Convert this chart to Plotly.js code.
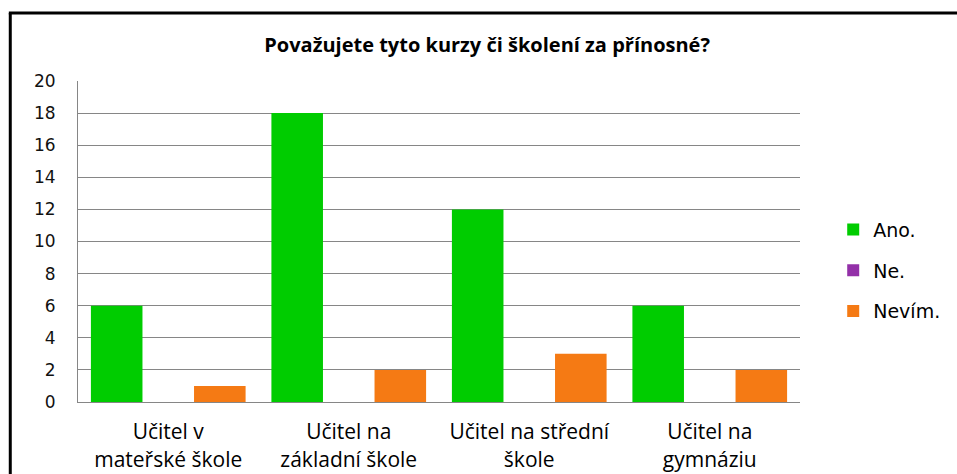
<!DOCTYPE html>
<html><head><meta charset="utf-8">
<script src="https://cdn.plot.ly/plotly-3.0.1.min.js"></script>
<style>html,body{margin:0;padding:0;background:#fff}#chart{width:957px;height:474px}</style>
</head><body><div id="chart"></div>
<script>
const categories = ["Učitel v<br>mateřské škole", "Učitel na<br>základní škole", "Učitel na střední<br>škole", "Učitel na<br>gymnáziu"];
const seriesNames = ["Ano.", "Ne.", "Nevím."];
const ano = [6, 18, 12, 6];
const ne = [0, 0, 0, 0];
const nevim = [1, 2, 3, 2];
const colors = ["#00CC00", "#9330A8", "#F57A14"];
const tickVals = [0, 2, 4, 6, 8, 10, 12, 14, 16, 18, 20];

const values = [ano, ne, nevim];
const traces = seriesNames.map((n, i) => ({
  type: "bar", name: n, x: categories, y: values[i],
  marker: {color: colors[i]}, legendgroup: "g" + i, hoverinfo: "y"
}));

const layout = {
  width: 957, height: 474,
  margin: {l: 78, r: 154, t: 81, b: 72, pad: 0},
  paper_bgcolor: "#fff", plot_bgcolor: "#fff",
  barmode: "group", bargap: 0.143, bargroupgap: 0,
  title: {text: "<b>Považujete tyto kurzy či školení za přínosné?</b>",
    font: {family: "'Open Sans', Lato, sans-serif", size: 20, color: "#000"},
    x: 0.509, xref: "container", xanchor: "center", y: 0.905, yref: "container", yanchor: "middle"},
  xaxis: {tickfont: {family: "'Open Sans', Lato, sans-serif", size: 21, color: "#000"},
    showline: true, linecolor: "#868686", linewidth: 1, ticks: "", showgrid: false, fixedrange: true,
    ticklabelstandoff: 11},
  yaxis: {range: [0, 20], tickvals: tickVals, ticktext: tickVals.map(String),
    tickfont: {family: "'DejaVu Sans', sans-serif", size: 17, color: "#111"},
    showgrid: true, gridcolor: "#868686", gridwidth: 1, zeroline: false,
    showline: true, linecolor: "#868686", linewidth: 1, ticks: "", ticklabelstandoff: 18, fixedrange: true},
  legend: {x: 1.046, xanchor: "left", y: 0.596, yanchor: "top",
    font: {family: "'DejaVu Sans', sans-serif", size: 19, color: "#000"},
    traceorder: "grouped", tracegroupgap: 13, itemwidth: 30},
  shapes: [
    {type: "line", xref: "paper", yref: "paper", x0: -0.0938, x1: -0.0938, y0: 1.2118, y1: -0.25, line: {color: "#000", width: 3}},
    {type: "line", xref: "paper", yref: "paper", x0: -0.0958, x1: 1.22, y0: 1.2118, y1: 1.2118, line: {color: "#000", width: 3}}
  ]
};
Plotly.newPlot("chart", traces, layout, {displayModeBar: false, staticPlot: true});
</script></body></html>
